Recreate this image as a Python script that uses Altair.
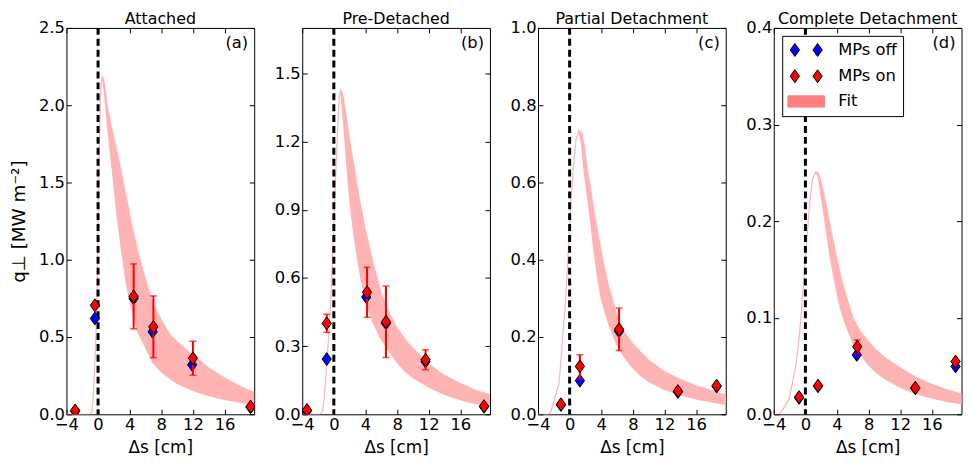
import altair as alt
import pandas as pd

FONT = "DejaVu Sans"
BLUE = "#0000ff"
RED = "#ff0000"
BAND = "#ffb3b3"
FIT_PATCH = "#ff8080"
DIAMOND = "M0,-1L0.72,0L0,1L-0.72,0Z"
MP_LEGEND = "M-1.64,-0.93L-0.97,0L-1.64,0.93L-2.31,0Z M1.64,-0.93L2.31,0L1.64,0.93L0.97,0Z"
FIT_LEGEND = "M-2.64,-0.81L2.64,-0.81L2.64,0.81L-2.64,0.81Z"

W = 189.5
H = 390

titles = ["Attached", "Pre-Detached", "Partial Detachment", "Complete Detachment"]
tags = ["(a)", "(b)", "(c)", "(d)"]
legend_labels = ["MPs off", "MPs on", "Fit"]
y_max = [2.5, 1.7, 1.0, 0.4]
y_ticks = [
    [0.0, 0.5, 1.0, 1.5, 2.0, 2.5],
    [0.0, 0.3, 0.6, 0.9, 1.2, 1.5],
    [0.0, 0.2, 0.4, 0.6, 0.8, 1.0],
    [0.0, 0.1, 0.2, 0.3, 0.4],
]
x_ticks = [-4, 0, 4, 8, 12, 16]
x_domain = [-4, 19.75]
separatrix = [0]

# MPs off (blue)
off_x = [
    [-2.9, -0.4, 4.5, 6.9, 11.9, 19.3],
    [-3.4, -0.9, 4.1, 6.6, 11.6, 19.0],
    [-1.1, 1.3, 6.25, 13.7, 18.6],
    [-0.8, 1.6, 6.5, 13.9, 19.0],
]
off_y = [
    [0.02, 0.62, 0.75, 0.534, 0.32, 0.045],
    [0.015, 0.243, 0.516, 0.40, 0.232, 0.033],
    [0.024, 0.087, 0.215, 0.058, 0.072],
    [0.017, 0.029, 0.0615, 0.027, 0.0496],
]
# MPs on (red)
on_x = [
    [-2.9, -0.4, 4.5, 7.0, 12.0, 19.3],
    [-3.4, -0.9, 4.2, 6.6, 11.6, 19.0],
    [-1.1, 1.3, 6.25, 13.7, 18.6],
    [-0.8, 1.6, 6.56, 13.9, 19.0],
]
on_y = [
    [0.025, 0.705, 0.763, 0.566, 0.363, 0.05],
    [0.019, 0.40, 0.537, 0.407, 0.24, 0.036],
    [0.026, 0.124, 0.22, 0.06, 0.074],
    [0.0178, 0.0297, 0.070, 0.0274, 0.0547],
]
on_err = [
    [0, 0, 0.21, 0.2, 0.11, 0],
    [0, 0.04, 0.11, 0.157, 0.044, 0],
    [0, 0.03, 0.055, 0, 0],
    [0, 0, 0.007, 0, 0],
]

# Fit band (lower / upper edge)
fit_x = [
    [-4, -1.0, -0.75, -0.6, -0.42, -0.2, 0.0, 0.2, 0.35, 0.54, 0.8, 1.2, 1.8, 2.4, 3.0, 3.6, 4.2, 5.0, 6.0, 7.0,
     8.0, 9.0, 10.0, 12.0, 14.0, 16.0, 18.0, 19.75],
    [-4, -1.8, -1.44, -1.2, -0.9, -0.4, 0.1, 0.44, 0.65, 0.85, 1.1, 1.4, 1.8, 2.2, 2.6, 3.2, 4.0, 5.0, 6.0, 7.0,
     8.0, 9.0, 10.0, 12.0, 14.0, 16.0, 18.0, 19.75],
    [-4, -2.6, -2.4, -1.9, -1.33, -0.84, -0.5, -0.17, 0.17, 0.46, 0.8, 1.17, 1.5, 1.8, 2.2, 2.6, 3.0, 3.5, 4.0,
     4.5, 5.0, 6.0, 7.0, 8.0, 9.0, 10.0, 12.0, 14.0, 16.0, 18.0, 19.75],
    [-4, -3.4, -3.1, -2.06, -1.23, -0.73, -0.4, -0.1, 0.23, 0.56, 0.9, 1.27, 1.6, 2.0, 2.4, 2.8, 3.2, 3.6, 4.0,
     4.5, 5.0, 6.0, 7.0, 8.0, 9.0, 10.0, 12.0, 14.0, 16.0, 18.0, 19.75],
]
fit_lo = [
    [0, 0, 0.02, 0.12, 0.31, 0.6, 1.2, 1.85, 2.12, 2.19, 2.08, 1.86, 1.58, 1.29, 1.05, 0.84, 0.69, 0.54, 0.43, 0.33,
     0.275, 0.235, 0.2, 0.155, 0.12, 0.097, 0.078, 0.064],
    [0, 0, 0.01, 0.08, 0.21, 0.49, 0.937, 1.228, 1.38, 1.428, 1.34, 1.21, 1.03, 0.885, 0.775, 0.64, 0.50, 0.40, 0.33,
     0.278, 0.228, 0.19, 0.162, 0.12, 0.087, 0.064, 0.047, 0.035],
    [0, 0, 0.005, 0.04, 0.081, 0.209, 0.295, 0.423, 0.551, 0.637, 0.71, 0.735, 0.70, 0.635, 0.572, 0.51, 0.437, 0.36,
     0.30, 0.265, 0.23, 0.18, 0.146, 0.12, 0.10, 0.085, 0.064, 0.05, 0.04, 0.032, 0.026],
    [0, 0, 0.002, 0.0154, 0.0496, 0.0838, 0.118, 0.152, 0.186, 0.2205, 0.243, 0.2506, 0.247, 0.226, 0.204, 0.182,
     0.16, 0.142, 0.126, 0.108, 0.095, 0.074, 0.062, 0.051, 0.043, 0.037, 0.028, 0.021, 0.017, 0.013, 0.011],
]
fit_hi = [
    [0, 0, 0.02, 0.12, 0.31, 0.6, 1.2, 1.85, 2.12, 2.19, 2.14, 1.98, 1.83, 1.7, 1.55, 1.395, 1.24, 1.06, 0.87, 0.71,
     0.61, 0.52, 0.47, 0.38, 0.30, 0.235, 0.18, 0.14],
    [0, 0, 0.01, 0.08, 0.21, 0.49, 0.937, 1.228, 1.38, 1.428, 1.41, 1.35, 1.25, 1.16, 1.082, 0.95, 0.81, 0.66, 0.53,
     0.445, 0.38, 0.33, 0.29, 0.22, 0.17, 0.135, 0.105, 0.085],
    [0, 0, 0.005, 0.04, 0.081, 0.209, 0.295, 0.423, 0.551, 0.637, 0.71, 0.735, 0.73, 0.70, 0.637, 0.59, 0.536, 0.476,
     0.42, 0.37, 0.325, 0.255, 0.209, 0.182, 0.16, 0.14, 0.11, 0.09, 0.074, 0.061, 0.05],
    [0, 0, 0.002, 0.0154, 0.0496, 0.0838, 0.118, 0.152, 0.186, 0.2205, 0.243, 0.2506, 0.25, 0.24, 0.225, 0.209,
     0.192, 0.176, 0.16, 0.142, 0.127, 0.10, 0.085, 0.075, 0.066, 0.059, 0.048, 0.038, 0.031, 0.025, 0.021],
]

AX = dict(domain=False, grid=False, ticks=True, tickColor="black", tickWidth=1, tickSize=5, offset=-5,
          labelFont=FONT, titleFont=FONT, labelFontSize=16.5, labelColor="black",
          titleColor="black", titleFontWeight="normal")

legend = alt.Legend(title=None, orient="none", legendX=8.5, legendY=8, padding=6, strokeColor="black",
                    fillColor="white", cornerRadius=0, labelFont=FONT, labelFontSize=16.5, labelColor="black",
                    symbolSize=196, symbolOffset=10, labelOffset=24, rowPadding=8.5, symbolStrokeWidth=1,
                    symbolOpacity=1, labelLimit=300)

panels = []
for i in range(4):
    xs = alt.Scale(domain=x_domain, nice=False, zero=False)
    ys = alt.Scale(domain=[0, y_max[i]], nice=False, zero=False)
    x_bottom = alt.Axis(orient="bottom", values=x_ticks, format="d", title="Δs [cm]", labelFlush=False,
                        labelPadding=2, titlePadding=7, titleFontSize=17, **AX)
    if i == 0:
        y_left = alt.Axis(orient="left", values=y_ticks[i], format=".1f", labelFlush=False, labelPadding=2,
                          titlePadding=10, title="q⊥ [MW m⁻²]", titleFontSize=18.5, **AX)
    else:
        y_left = alt.Axis(orient="left", values=y_ticks[i], format=".1f", labelFlush=False, labelPadding=2,
                          title=None, **AX)
    x_top = alt.Axis(orient="top", values=x_ticks, labels=False, title=None, **AX)
    y_right = alt.Axis(orient="right", values=y_ticks[i], labels=False, title=None, **AX)

    band = pd.DataFrame({"s": fit_x[i], "lo": fit_lo[i], "hi": fit_hi[i]})
    off = pd.DataFrame({"s": off_x[i], "q": off_y[i]})
    on = pd.DataFrame({"s": on_x[i], "q": on_y[i], "err": on_err[i]})
    sep = pd.DataFrame({"s": separatrix})
    tag = pd.DataFrame({"tag": [tags[i]]})
    ttl = pd.DataFrame({"title": [titles[i]]})

    area = alt.Chart(band).mark_area(fill=BAND, stroke=BAND, strokeWidth=1.2, clip=True).encode(
        x=alt.X("s:Q", scale=xs, axis=x_bottom),
        y=alt.Y("lo:Q", scale=ys, axis=y_left),
        y2="hi:Q",
    )
    rule = alt.Chart(sep).mark_rule(color="black", strokeWidth=3, strokeDash=[7, 4]).encode(
        x=alt.X("s:Q", scale=xs, axis=None)
    )
    blue = alt.Chart(off).mark_point(shape=DIAMOND, filled=True, fill=BLUE, stroke="black", strokeWidth=1,
                                     size=169, opacity=1, clip=True).encode(
        x=alt.X("s:Q", scale=xs, axis=x_top),
        y=alt.Y("q:Q", scale=ys, axis=y_right),
    )
    bars = alt.Chart(on).transform_filter("datum.err > 0").transform_calculate(
        lo="datum.q - datum.err", hi="datum.q + datum.err"
    ).mark_rule(color=RED, strokeWidth=2).encode(
        x=alt.X("s:Q", scale=xs, axis=None),
        y=alt.Y("lo:Q", scale=ys, axis=None),
        y2="hi:Q",
    )
    caps = alt.Chart(on).transform_filter("datum.err > 0").transform_calculate(
        lo="datum.q - datum.err", hi="datum.q + datum.err"
    ).transform_fold(["lo", "hi"], as_=["end", "v"]).mark_tick(
        color=RED, orient="horizontal", size=7, thickness=1.5
    ).encode(
        x=alt.X("s:Q", scale=xs, axis=None),
        y=alt.Y("v:Q", scale=ys, axis=None),
    )
    red = alt.Chart(on).mark_point(shape=DIAMOND, filled=True, fill=RED, stroke="black", strokeWidth=1,
                                   size=169, opacity=1, clip=True).encode(
        x=alt.X("s:Q", scale=xs, axis=None),
        y=alt.Y("q:Q", scale=ys, axis=None),
    )
    label = alt.Chart(tag).mark_text(align="right", baseline="top", font=FONT, fontSize=16.5,
                                     color="black").encode(
        x=alt.value(W - 6), y=alt.value(7.5), text="tag:N"
    )
    head = alt.Chart(ttl).mark_text(align="center", baseline="alphabetic", font=FONT, fontSize=16,
                                    color="black").encode(
        x=alt.value(W / 2), y=alt.value(-4.3), text="title:N"
    )
    layers = [area, rule, blue, bars, caps, red, label, head]
    if i == 3:
        leg_df = pd.DataFrame({"series": legend_labels})
        leg = alt.Chart(leg_df).mark_point(filled=True, opacity=0).encode(
            x=alt.value(0),
            y=alt.value(0),
            fill=alt.Fill("series:N", scale=alt.Scale(domain=legend_labels, range=[BLUE, RED, FIT_PATCH]),
                          legend=legend),
            stroke=alt.Stroke("series:N",
                              scale=alt.Scale(domain=legend_labels, range=["black", "black", FIT_PATCH]),
                              legend=legend),
            shape=alt.Shape("series:N",
                            scale=alt.Scale(domain=legend_labels, range=[MP_LEGEND, MP_LEGEND, FIT_LEGEND]),
                            legend=legend),
        )
        layers.append(leg)
    p = alt.layer(*layers).resolve_axis(x="independent", y="independent").properties(width=W, height=H)
    panels.append(p)

chart = alt.hconcat(*panels, spacing=48, bounds="flush").resolve_scale(
    fill="independent", stroke="independent", shape="independent"
).resolve_legend(
    fill="independent", stroke="independent", shape="independent"
).configure_view(stroke="black", strokeWidth=1).properties(
    padding={"left": 1, "top": 0, "right": 0, "bottom": 0}
)

chart.save("out.html", embed_options={"renderer": "svg", "actions": False})
